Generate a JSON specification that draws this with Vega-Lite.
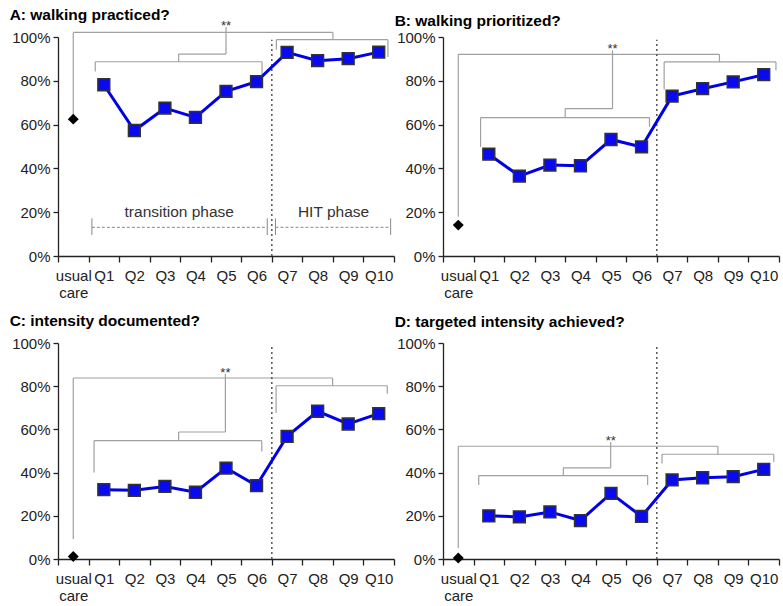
{
  "$schema": "https://vega.github.io/schema/vega-lite/v6.json",
  "padding": {"left": 9, "top": 8, "right": 3, "bottom": 3},
  "background": "white",
  "config": {
    "font": "Liberation Sans",
    "view": {"stroke": null},
    "axis": {"grid": false, "domainColor": "#222", "tickColor": "#222", "labelColor": "#222", "labelFontSize": 15, "domainWidth": 1.3, "tickWidth": 1.3},
    "title": {"anchor": "start", "frame": "bounds", "fontSize": 15.5, "fontWeight": "bold", "color": "#000", "dx": -2}
  },
  "datasets": {
    "pts": [
      {"p": "A", "q": "usual care", "v": 62.5}, {"p": "A", "q": "Q1", "v": 78.2}, {"p": "A", "q": "Q2", "v": 57.3}, {"p": "A", "q": "Q3", "v": 67.5}, {"p": "A", "q": "Q4", "v": 63.3}, {"p": "A", "q": "Q5", "v": 75.2}, {"p": "A", "q": "Q6", "v": 79.6}, {"p": "A", "q": "Q7", "v": 93.0}, {"p": "A", "q": "Q8", "v": 89.2}, {"p": "A", "q": "Q9", "v": 90.1}, {"p": "A", "q": "Q10", "v": 93.1},
      {"p": "B", "q": "usual care", "v": 14.1}, {"p": "B", "q": "Q1", "v": 46.5}, {"p": "B", "q": "Q2", "v": 36.5}, {"p": "B", "q": "Q3", "v": 41.5}, {"p": "B", "q": "Q4", "v": 41.2}, {"p": "B", "q": "Q5", "v": 53.2}, {"p": "B", "q": "Q6", "v": 49.8}, {"p": "B", "q": "Q7", "v": 73.0}, {"p": "B", "q": "Q8", "v": 76.4}, {"p": "B", "q": "Q9", "v": 79.5}, {"p": "B", "q": "Q10", "v": 82.8},
      {"p": "C", "q": "usual care", "v": 1.2}, {"p": "C", "q": "Q1", "v": 32.1}, {"p": "C", "q": "Q2", "v": 31.8}, {"p": "C", "q": "Q3", "v": 33.6}, {"p": "C", "q": "Q4", "v": 30.9}, {"p": "C", "q": "Q5", "v": 42.1}, {"p": "C", "q": "Q6", "v": 34.0}, {"p": "C", "q": "Q7", "v": 56.8}, {"p": "C", "q": "Q8", "v": 68.4}, {"p": "C", "q": "Q9", "v": 62.5}, {"p": "C", "q": "Q10", "v": 67.3},
      {"p": "D", "q": "usual care", "v": 0.5}, {"p": "D", "q": "Q1", "v": 20.0}, {"p": "D", "q": "Q2", "v": 19.5}, {"p": "D", "q": "Q3", "v": 21.8}, {"p": "D", "q": "Q4", "v": 17.8}, {"p": "D", "q": "Q5", "v": 30.4}, {"p": "D", "q": "Q6", "v": 19.7}, {"p": "D", "q": "Q7", "v": 36.6}, {"p": "D", "q": "Q8", "v": 37.6}, {"p": "D", "q": "Q9", "v": 38.1}, {"p": "D", "q": "Q10", "v": 41.5}
    ],
    "seg": [
      {"p": "A", "k": "b", "x": 0, "x2": 0, "v": 64.5, "v2": 102.1}, {"p": "A", "k": "b", "x": 0, "x2": 8.5, "v": 102.1, "v2": 102.1}, {"p": "A", "k": "b", "x": 8.5, "x2": 8.5, "v": 102.1, "v2": 98.8},
      {"p": "A", "k": "b", "x": 6.65, "x2": 10.3, "v": 98.8, "v2": 98.8}, {"p": "A", "k": "b", "x": 6.65, "x2": 6.65, "v": 98.8, "v2": 94.2}, {"p": "A", "k": "b", "x": 10.3, "x2": 10.3, "v": 98.8, "v2": 90.9},
      {"p": "A", "k": "b", "x": 0.72, "x2": 6.18, "v": 88.7, "v2": 88.7}, {"p": "A", "k": "b", "x": 0.72, "x2": 0.72, "v": 88.7, "v2": 84.3}, {"p": "A", "k": "b", "x": 6.18, "x2": 6.18, "v": 88.7, "v2": 81.7},
      {"p": "A", "k": "b", "x": 3.45, "x2": 3.45, "v": 88.7, "v2": 92.2}, {"p": "A", "k": "b", "x": 3.45, "x2": 5.0, "v": 92.2, "v2": 92.2}, {"p": "A", "k": "b", "x": 5.0, "x2": 5.0, "v": 92.2, "v2": 104.6},
      {"p": "A", "k": "d", "x": 6.5, "x2": 6.5, "v": 0, "v2": 98.8},
      {"p": "A", "k": "a", "x": 0.61, "x2": 6.35, "v": 13.1, "v2": 13.1}, {"p": "A", "k": "a", "x": 6.62, "x2": 10.39, "v": 13.1, "v2": 13.1},
      {"p": "A", "k": "c", "x": 0.61, "x2": 0.61, "v": 9.6, "v2": 17.2}, {"p": "A", "k": "c", "x": 6.35, "x2": 6.35, "v": 9.6, "v2": 17.2}, {"p": "A", "k": "c", "x": 6.62, "x2": 6.62, "v": 9.6, "v2": 17.2}, {"p": "A", "k": "c", "x": 10.39, "x2": 10.39, "v": 9.6, "v2": 17.2},
      {"p": "B", "k": "b", "x": 0, "x2": 0, "v": 17.9, "v2": 92.1}, {"p": "B", "k": "b", "x": 0, "x2": 8.55, "v": 92.1, "v2": 92.1}, {"p": "B", "k": "b", "x": 8.55, "x2": 8.55, "v": 92.1, "v2": 88.6},
      {"p": "B", "k": "b", "x": 6.74, "x2": 10.4, "v": 88.6, "v2": 88.6}, {"p": "B", "k": "b", "x": 6.74, "x2": 6.74, "v": 88.6, "v2": 76.0}, {"p": "B", "k": "b", "x": 10.4, "x2": 10.4, "v": 88.6, "v2": 84.8},
      {"p": "B", "k": "b", "x": 0.73, "x2": 6.26, "v": 63.2, "v2": 63.2}, {"p": "B", "k": "b", "x": 0.73, "x2": 0.73, "v": 63.2, "v2": 49.8}, {"p": "B", "k": "b", "x": 6.26, "x2": 6.26, "v": 63.2, "v2": 59.0},
      {"p": "B", "k": "b", "x": 3.5, "x2": 3.5, "v": 63.2, "v2": 67.3}, {"p": "B", "k": "b", "x": 3.5, "x2": 5.05, "v": 67.3, "v2": 67.3}, {"p": "B", "k": "b", "x": 5.05, "x2": 5.05, "v": 67.3, "v2": 93.9},
      {"p": "B", "k": "d", "x": 6.5, "x2": 6.5, "v": 0, "v2": 98.8},
      {"p": "C", "k": "b", "x": 0, "x2": 0, "v": 9.3, "v2": 83.8}, {"p": "C", "k": "b", "x": 0, "x2": 8.49, "v": 83.8, "v2": 83.8}, {"p": "C", "k": "b", "x": 8.49, "x2": 8.49, "v": 83.8, "v2": 80.2},
      {"p": "C", "k": "b", "x": 6.64, "x2": 10.28, "v": 80.2, "v2": 80.2}, {"p": "C", "k": "b", "x": 6.64, "x2": 6.64, "v": 80.2, "v2": 67.6}, {"p": "C", "k": "b", "x": 10.28, "x2": 10.28, "v": 80.2, "v2": 76.5},
      {"p": "C", "k": "b", "x": 0.68, "x2": 6.17, "v": 54.8, "v2": 54.8}, {"p": "C", "k": "b", "x": 0.68, "x2": 0.68, "v": 54.8, "v2": 40.1}, {"p": "C", "k": "b", "x": 6.17, "x2": 6.17, "v": 54.8, "v2": 49.8},
      {"p": "C", "k": "b", "x": 3.45, "x2": 3.45, "v": 54.8, "v2": 58.8}, {"p": "C", "k": "b", "x": 3.45, "x2": 4.98, "v": 58.8, "v2": 58.8}, {"p": "C", "k": "b", "x": 4.98, "x2": 4.98, "v": 58.8, "v2": 85.8},
      {"p": "C", "k": "d", "x": 6.5, "x2": 6.5, "v": 0, "v2": 99.2},
      {"p": "D", "k": "b", "x": 0, "x2": 0, "v": 5.1, "v2": 52.2}, {"p": "D", "k": "b", "x": 0, "x2": 8.5, "v": 52.2, "v2": 52.2}, {"p": "D", "k": "b", "x": 8.5, "x2": 8.5, "v": 52.2, "v2": 48.5},
      {"p": "D", "k": "b", "x": 6.67, "x2": 10.33, "v": 48.5, "v2": 48.5}, {"p": "D", "k": "b", "x": 6.67, "x2": 6.67, "v": 48.5, "v2": 44.2}, {"p": "D", "k": "b", "x": 10.33, "x2": 10.33, "v": 48.5, "v2": 45.0},
      {"p": "D", "k": "b", "x": 0.67, "x2": 6.2, "v": 38.6, "v2": 38.6}, {"p": "D", "k": "b", "x": 0.67, "x2": 0.67, "v": 38.6, "v2": 34.3}, {"p": "D", "k": "b", "x": 6.2, "x2": 6.2, "v": 38.6, "v2": 34.3},
      {"p": "D", "k": "b", "x": 3.44, "x2": 3.44, "v": 38.6, "v2": 42.2}, {"p": "D", "k": "b", "x": 3.44, "x2": 4.99, "v": 42.2, "v2": 42.2}, {"p": "D", "k": "b", "x": 4.99, "x2": 4.99, "v": 42.2, "v2": 54.2},
      {"p": "D", "k": "d", "x": 6.5, "x2": 6.5, "v": 0, "v2": 98.8}
    ],
    "txt": [
      {"p": "A", "k": "s", "x": 5.0, "v": 104.6, "t": "**"},
      {"p": "A", "k": "a", "x": 3.47, "v": 17.6, "t": "transition phase"},
      {"p": "A", "k": "a", "x": 8.52, "v": 17.6, "t": "HIT phase"},
      {"p": "B", "k": "s", "x": 5.05, "v": 93.9, "t": "**"},
      {"p": "C", "k": "s", "x": 4.98, "v": 85.8, "t": "**"},
      {"p": "D", "k": "s", "x": 4.99, "v": 54.2, "t": "**"}
    ]
  },
  "columns": 2,
  "spacing": {"row": 87, "column": 49},
  "bounds": "flush",
  "concat": [
    {
      "title": {"text": "A: walking practiced?", "offset": -4},
      "width": 336, "height": 219,
      "resolve": {"scale": {"x": "independent"}},
      "layer": [
        {"layer": [
          {"data": {"name": "seg"}, "transform": [{"filter": "datum.p == 'A' && datum.k == 'b'"}], "mark": {"type": "rule", "color": "#a0a0a0", "strokeWidth": 1.2},
           "encoding": {"x": {"field": "x", "type": "quantitative", "scale": {"domain": [-0.5, 10.5], "nice": false, "zero": false}, "axis": null}, "x2": {"field": "x2"}, "y": {"field": "v", "type": "quantitative", "title": null, "scale": {"domain": [0, 100], "nice": false}}, "y2": {"field": "v2"}}},
          {"data": {"name": "seg"}, "transform": [{"filter": "datum.p == 'A' && datum.k == 'd'"}], "mark": {"type": "rule", "color": "#555", "strokeWidth": 1.5, "strokeDash": [2, 3]},
           "encoding": {"x": {"field": "x", "type": "quantitative"}, "x2": {"field": "x2"}, "y": {"field": "v", "type": "quantitative", "title": null}, "y2": {"field": "v2"}}},
          {"data": {"name": "seg"}, "transform": [{"filter": "datum.p == 'A' && datum.k == 'a'"}], "mark": {"type": "rule", "color": "#888", "strokeWidth": 1, "strokeDash": [3, 2]},
           "encoding": {"x": {"field": "x", "type": "quantitative"}, "x2": {"field": "x2"}, "y": {"field": "v", "type": "quantitative", "title": null}, "y2": {"field": "v2"}}},
          {"data": {"name": "seg"}, "transform": [{"filter": "datum.p == 'A' && datum.k == 'c'"}], "mark": {"type": "rule", "color": "#888", "strokeWidth": 1},
           "encoding": {"x": {"field": "x", "type": "quantitative"}, "x2": {"field": "x2"}, "y": {"field": "v", "type": "quantitative", "title": null}, "y2": {"field": "v2"}}},
          {"data": {"name": "txt"}, "transform": [{"filter": "datum.p == 'A' && datum.k == 's'"}], "mark": {"type": "text", "fontSize": 13, "color": "#333", "baseline": "alphabetic", "dy": 3},
           "encoding": {"x": {"field": "x", "type": "quantitative"}, "y": {"field": "v", "type": "quantitative", "title": null}, "text": {"field": "t"}}},
          {"data": {"name": "txt"}, "transform": [{"filter": "datum.p == 'A' && datum.k == 'a'"}], "mark": {"type": "text", "fontSize": 15.5, "color": "#333", "baseline": "alphabetic"},
           "encoding": {"x": {"field": "x", "type": "quantitative"}, "y": {"field": "v", "type": "quantitative", "title": null}, "text": {"field": "t"}}}
        ]},
        {"layer": [
          {"data": {"name": "pts"}, "transform": [{"filter": "datum.p == 'A' && datum.q != 'usual care'"}], "mark": {"type": "line", "color": "#0000e6", "strokeWidth": 3},
           "encoding": {"x": {"field": "q", "type": "nominal", "title": null, "scale": {"type": "band", "domain": ["usual care", "Q1", "Q2", "Q3", "Q4", "Q5", "Q6", "Q7", "Q8", "Q9", "Q10"], "paddingInner": 0, "paddingOuter": 0},
             "axis": {"orient": "bottom", "tickBand": "extent", "tickSize": 6, "labelPadding": 6, "labelAngle": 0, "labelLineHeight": 17, "labelOverlap": false, "labelExpr": "datum.value == 'usual care' ? ['usual', 'care'] : datum.value"}},
             "y": {"field": "v", "type": "quantitative", "title": null, "axis": {"values": [0, 20, 40, 60, 80, 100], "labelExpr": "datum.value + '%'", "tickSize": 5, "labelPadding": 3}}}},
          {"data": {"name": "pts"}, "transform": [{"filter": "datum.p == 'A' && datum.q != 'usual care'"}], "mark": {"type": "point", "shape": "square", "filled": true, "fill": "#0a0af0", "stroke": "#333", "strokeWidth": 1.5, "size": 140, "opacity": 1},
           "encoding": {"x": {"field": "q", "type": "nominal"}, "y": {"field": "v", "type": "quantitative", "title": null}}},
          {"data": {"name": "pts"}, "transform": [{"filter": "datum.p == 'A' && datum.q == 'usual care'"}], "mark": {"type": "point", "shape": "diamond", "filled": true, "color": "#000", "size": 120, "opacity": 1},
           "encoding": {"x": {"field": "q", "type": "nominal"}, "y": {"field": "v", "type": "quantitative", "title": null}}}
        ]}
      ]
    },
    {
      "title": {"text": "B: walking prioritized?", "offset": 1},
      "width": 336, "height": 219,
      "resolve": {"scale": {"x": "independent"}},
      "layer": [
        {"layer": [
          {"data": {"name": "seg"}, "transform": [{"filter": "datum.p == 'B' && datum.k == 'b'"}], "mark": {"type": "rule", "color": "#a0a0a0", "strokeWidth": 1.2},
           "encoding": {"x": {"field": "x", "type": "quantitative", "scale": {"domain": [-0.5, 10.5], "nice": false, "zero": false}, "axis": null}, "x2": {"field": "x2"}, "y": {"field": "v", "type": "quantitative", "title": null, "scale": {"domain": [0, 100], "nice": false}}, "y2": {"field": "v2"}}},
          {"data": {"name": "seg"}, "transform": [{"filter": "datum.p == 'B' && datum.k == 'd'"}], "mark": {"type": "rule", "color": "#555", "strokeWidth": 1.5, "strokeDash": [2, 3]},
           "encoding": {"x": {"field": "x", "type": "quantitative"}, "x2": {"field": "x2"}, "y": {"field": "v", "type": "quantitative", "title": null}, "y2": {"field": "v2"}}},
          {"data": {"name": "txt"}, "transform": [{"filter": "datum.p == 'B' && datum.k == 's'"}], "mark": {"type": "text", "fontSize": 13, "color": "#333", "baseline": "alphabetic", "dy": 3},
           "encoding": {"x": {"field": "x", "type": "quantitative"}, "y": {"field": "v", "type": "quantitative", "title": null}, "text": {"field": "t"}}}
        ]},
        {"layer": [
          {"data": {"name": "pts"}, "transform": [{"filter": "datum.p == 'B' && datum.q != 'usual care'"}], "mark": {"type": "line", "color": "#0000e6", "strokeWidth": 3},
           "encoding": {"x": {"field": "q", "type": "nominal", "title": null, "scale": {"type": "band", "domain": ["usual care", "Q1", "Q2", "Q3", "Q4", "Q5", "Q6", "Q7", "Q8", "Q9", "Q10"], "paddingInner": 0, "paddingOuter": 0},
             "axis": {"orient": "bottom", "tickBand": "extent", "tickSize": 6, "labelPadding": 6, "labelAngle": 0, "labelLineHeight": 17, "labelOverlap": false, "labelExpr": "datum.value == 'usual care' ? ['usual', 'care'] : datum.value"}},
             "y": {"field": "v", "type": "quantitative", "title": null, "axis": {"values": [0, 20, 40, 60, 80, 100], "labelExpr": "datum.value + '%'", "tickSize": 5, "labelPadding": 3}}}},
          {"data": {"name": "pts"}, "transform": [{"filter": "datum.p == 'B' && datum.q != 'usual care'"}], "mark": {"type": "point", "shape": "square", "filled": true, "fill": "#0a0af0", "stroke": "#333", "strokeWidth": 1.5, "size": 140, "opacity": 1},
           "encoding": {"x": {"field": "q", "type": "nominal"}, "y": {"field": "v", "type": "quantitative", "title": null}}},
          {"data": {"name": "pts"}, "transform": [{"filter": "datum.p == 'B' && datum.q == 'usual care'"}], "mark": {"type": "point", "shape": "diamond", "filled": true, "color": "#000", "size": 120, "opacity": 1},
           "encoding": {"x": {"field": "q", "type": "nominal"}, "y": {"field": "v", "type": "quantitative", "title": null}}}
        ]}
      ]
    },
    {
      "title": {"text": "C: intensity documented?", "offset": 7},
      "width": 336, "height": 216,
      "resolve": {"scale": {"x": "independent"}},
      "layer": [
        {"layer": [
          {"data": {"name": "seg"}, "transform": [{"filter": "datum.p == 'C' && datum.k == 'b'"}], "mark": {"type": "rule", "color": "#a0a0a0", "strokeWidth": 1.2},
           "encoding": {"x": {"field": "x", "type": "quantitative", "scale": {"domain": [-0.5, 10.5], "nice": false, "zero": false}, "axis": null}, "x2": {"field": "x2"}, "y": {"field": "v", "type": "quantitative", "title": null, "scale": {"domain": [0, 100], "nice": false}}, "y2": {"field": "v2"}}},
          {"data": {"name": "seg"}, "transform": [{"filter": "datum.p == 'C' && datum.k == 'd'"}], "mark": {"type": "rule", "color": "#555", "strokeWidth": 1.5, "strokeDash": [2, 3]},
           "encoding": {"x": {"field": "x", "type": "quantitative"}, "x2": {"field": "x2"}, "y": {"field": "v", "type": "quantitative", "title": null}, "y2": {"field": "v2"}}},
          {"data": {"name": "txt"}, "transform": [{"filter": "datum.p == 'C' && datum.k == 's'"}], "mark": {"type": "text", "fontSize": 13, "color": "#333", "baseline": "alphabetic", "dy": 3},
           "encoding": {"x": {"field": "x", "type": "quantitative"}, "y": {"field": "v", "type": "quantitative", "title": null}, "text": {"field": "t"}}}
        ]},
        {"layer": [
          {"data": {"name": "pts"}, "transform": [{"filter": "datum.p == 'C' && datum.q != 'usual care'"}], "mark": {"type": "line", "color": "#0000e6", "strokeWidth": 3},
           "encoding": {"x": {"field": "q", "type": "nominal", "title": null, "scale": {"type": "band", "domain": ["usual care", "Q1", "Q2", "Q3", "Q4", "Q5", "Q6", "Q7", "Q8", "Q9", "Q10"], "paddingInner": 0, "paddingOuter": 0},
             "axis": {"orient": "bottom", "tickBand": "extent", "tickSize": 6, "labelPadding": 6, "labelAngle": 0, "labelLineHeight": 17, "labelOverlap": false, "labelExpr": "datum.value == 'usual care' ? ['usual', 'care'] : datum.value"}},
             "y": {"field": "v", "type": "quantitative", "title": null, "axis": {"values": [0, 20, 40, 60, 80, 100], "labelExpr": "datum.value + '%'", "tickSize": 5, "labelPadding": 3}}}},
          {"data": {"name": "pts"}, "transform": [{"filter": "datum.p == 'C' && datum.q != 'usual care'"}], "mark": {"type": "point", "shape": "square", "filled": true, "fill": "#0a0af0", "stroke": "#333", "strokeWidth": 1.5, "size": 140, "opacity": 1},
           "encoding": {"x": {"field": "q", "type": "nominal"}, "y": {"field": "v", "type": "quantitative", "title": null}}},
          {"data": {"name": "pts"}, "transform": [{"filter": "datum.p == 'C' && datum.q == 'usual care'"}], "mark": {"type": "point", "shape": "diamond", "filled": true, "color": "#000", "size": 120, "opacity": 1},
           "encoding": {"x": {"field": "q", "type": "nominal"}, "y": {"field": "v", "type": "quantitative", "title": null}}}
        ]}
      ]
    },
    {
      "title": {"text": "D: targeted intensity achieved?", "offset": 6},
      "width": 336, "height": 216,
      "resolve": {"scale": {"x": "independent"}},
      "layer": [
        {"layer": [
          {"data": {"name": "seg"}, "transform": [{"filter": "datum.p == 'D' && datum.k == 'b'"}], "mark": {"type": "rule", "color": "#a0a0a0", "strokeWidth": 1.2},
           "encoding": {"x": {"field": "x", "type": "quantitative", "scale": {"domain": [-0.5, 10.5], "nice": false, "zero": false}, "axis": null}, "x2": {"field": "x2"}, "y": {"field": "v", "type": "quantitative", "title": null, "scale": {"domain": [0, 100], "nice": false}}, "y2": {"field": "v2"}}},
          {"data": {"name": "seg"}, "transform": [{"filter": "datum.p == 'D' && datum.k == 'd'"}], "mark": {"type": "rule", "color": "#555", "strokeWidth": 1.5, "strokeDash": [2, 3]},
           "encoding": {"x": {"field": "x", "type": "quantitative"}, "x2": {"field": "x2"}, "y": {"field": "v", "type": "quantitative", "title": null}, "y2": {"field": "v2"}}},
          {"data": {"name": "txt"}, "transform": [{"filter": "datum.p == 'D' && datum.k == 's'"}], "mark": {"type": "text", "fontSize": 13, "color": "#333", "baseline": "alphabetic", "dy": 3},
           "encoding": {"x": {"field": "x", "type": "quantitative"}, "y": {"field": "v", "type": "quantitative", "title": null}, "text": {"field": "t"}}}
        ]},
        {"layer": [
          {"data": {"name": "pts"}, "transform": [{"filter": "datum.p == 'D' && datum.q != 'usual care'"}], "mark": {"type": "line", "color": "#0000e6", "strokeWidth": 3},
           "encoding": {"x": {"field": "q", "type": "nominal", "title": null, "scale": {"type": "band", "domain": ["usual care", "Q1", "Q2", "Q3", "Q4", "Q5", "Q6", "Q7", "Q8", "Q9", "Q10"], "paddingInner": 0, "paddingOuter": 0},
             "axis": {"orient": "bottom", "tickBand": "extent", "tickSize": 6, "labelPadding": 6, "labelAngle": 0, "labelLineHeight": 17, "labelOverlap": false, "labelExpr": "datum.value == 'usual care' ? ['usual', 'care'] : datum.value"}},
             "y": {"field": "v", "type": "quantitative", "title": null, "axis": {"values": [0, 20, 40, 60, 80, 100], "labelExpr": "datum.value + '%'", "tickSize": 5, "labelPadding": 3}}}},
          {"data": {"name": "pts"}, "transform": [{"filter": "datum.p == 'D' && datum.q != 'usual care'"}], "mark": {"type": "point", "shape": "square", "filled": true, "fill": "#0a0af0", "stroke": "#333", "strokeWidth": 1.5, "size": 140, "opacity": 1},
           "encoding": {"x": {"field": "q", "type": "nominal"}, "y": {"field": "v", "type": "quantitative", "title": null}}},
          {"data": {"name": "pts"}, "transform": [{"filter": "datum.p == 'D' && datum.q == 'usual care'"}], "mark": {"type": "point", "shape": "diamond", "filled": true, "color": "#000", "size": 120, "opacity": 1},
           "encoding": {"x": {"field": "q", "type": "nominal"}, "y": {"field": "v", "type": "quantitative", "title": null}}}
        ]}
      ]
    }
  ]
}
